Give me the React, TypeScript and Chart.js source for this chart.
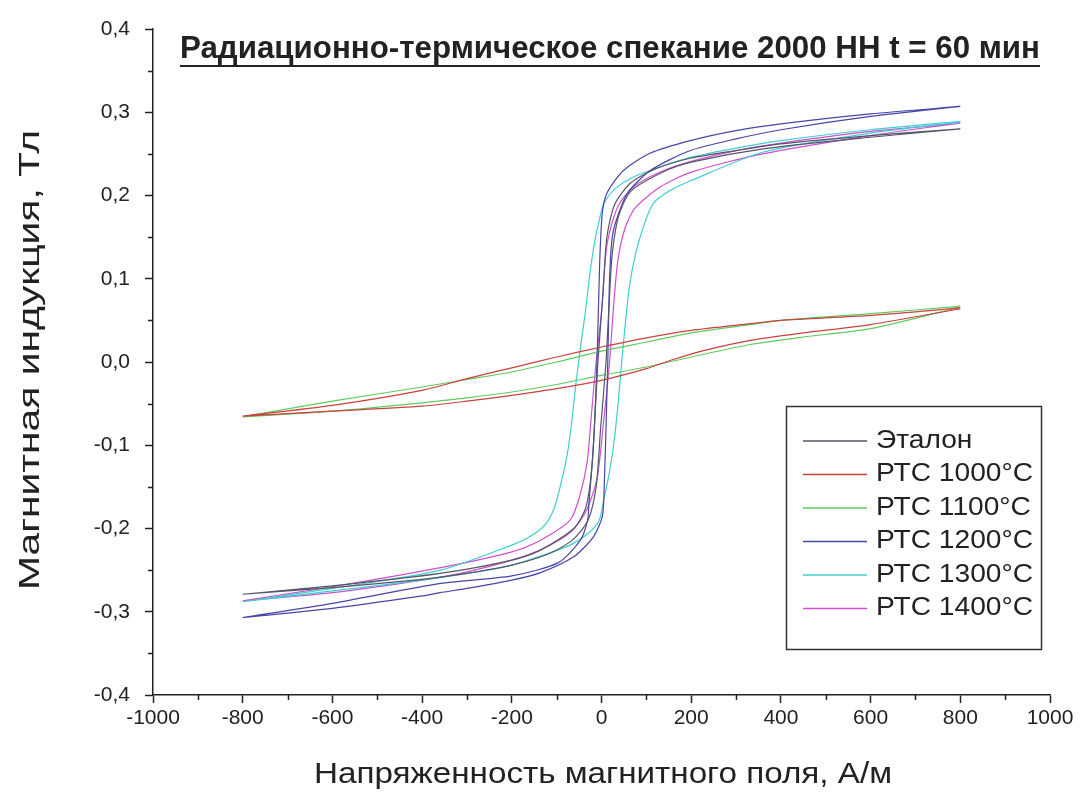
import React, { useEffect, useRef } from 'react';
import { Chart, registerables } from 'chart.js';

Chart.register(...registerables);

const TITLE = 'Радиационно-термическое спекание 2000 НН t = 60 мин';
const X_TITLE = 'Напряженность магнитного поля, А/м';
const Y_TITLE = 'Магнитная индукция, Тл';

const SERIES_NAMES = ['Эталон', 'РТС 1000°C', 'РТС 1100°C', 'РТС 1200°C', 'РТС 1300°C', 'РТС 1400°C'];
const SERIES_COLORS = ['#55556a', '#cc4040', '#5fcc5f', '#4646a8', '#3fcfcf', '#d04ed0'];

const X_MIN = -1000;
const X_MAX = 1000;
const X_STEP = 200;
const Y_MIN = -0.4;
const Y_MAX = 0.4;
const Y_STEP = 0.1;
const X_MINOR = [-900, -700, -500, -300, -100, 100, 300, 500, 700, 900];
const Y_MINOR = [-0.35, -0.25, -0.15, -0.05, 0.05, 0.15, 0.25, 0.35];

// Эталон
const etalonDescH = [800, 600, 400, 300, 200, 120, 65, 30, 12, 3, -8, -15, -22, -35, -62, -136, -200, -360, -600, -800];
const etalonDescB = [0.280, 0.272, 0.262, 0.254, 0.245, 0.232, 0.215, 0.19, 0.15, 0.08, 0.0, -0.07, -0.13, -0.175, -0.2, -0.226, -0.238, -0.254, -0.269, -0.279];
const etalonAscH = [-800, -600, -400, -300, -200, -120, -65, -30, -12, -2, 10, 17, 24, 38, 65, 136, 200, 360, 600, 800];
const etalonAscB = [-0.279, -0.271, -0.261, -0.254, -0.244, -0.231, -0.214, -0.19, -0.15, -0.08, 0.0, 0.07, 0.13, 0.175, 0.205, 0.228, 0.24, 0.256, 0.27, 0.28];

// РТС 1000
const rts1000DescH = [800, 600, 400, 332, 200, 100, 0, -100, -200, -300, -400, -600, -800];
const rts1000DescB = [0.065, 0.056, 0.05, 0.046, 0.038, 0.029, 0.018, 0.006, -0.007, -0.02, -0.034, -0.052, -0.065];
const rts1000AscH = [-800, -600, -400, -300, -200, -100, 0, 100, 160, 230, 332, 450, 600, 800];
const rts1000AscB = [-0.065, -0.059, -0.053, -0.047, -0.04, -0.032, -0.022, -0.008, 0.003, 0.014, 0.026, 0.035, 0.045, 0.064];

// РТС 1100
const rts1100DescH = [800, 600, 400, 332, 200, 100, 0, -100, -200, -300, -400, -600, -800];
const rts1100DescB = [0.067, 0.058, 0.05, 0.045, 0.035, 0.024, 0.013, 0.0, -0.012, -0.021, -0.03, -0.047, -0.066];
const rts1100AscH = [-800, -600, -400, -300, -200, -100, 0, 100, 200, 332, 450, 600, 800];
const rts1100AscB = [-0.066, -0.059, -0.049, -0.043, -0.036, -0.027, -0.016, -0.006, 0.006, 0.021, 0.03, 0.04, 0.066];

// РТС 1200
const rts1200DescH = [800, 600, 400, 300, 198, 109, 49, 13, 2, -4, -10, -18, -28, -31, -47, -96, -200, -359, -600, -800];
const rts1200DescB = [0.307, 0.298, 0.286, 0.278, 0.266, 0.251, 0.23, 0.204, 0.18, 0.12, 0.0, -0.1, -0.17, -0.19, -0.214, -0.241, -0.257, -0.266, -0.29, -0.307];
const rts1200AscH = [-800, -600, -400, -360, -300, -200, -136, -62, -18, 2, 6, 10, 14, 18, 24, 36, 58, 109, 198, 300, 400, 600, 800];
const rts1200AscB = [-0.307, -0.296, -0.281, -0.277, -0.272, -0.262, -0.253, -0.234, -0.21, -0.185, -0.15, -0.08, 0.0, 0.1, 0.15, 0.175, 0.203, 0.23, 0.254, 0.268, 0.279, 0.295, 0.307];

// РТС 1300
const rts1300DescH = [800, 600, 400, 300, 200, 130, 70, 30, 5, -5, -15, -25, -36, -45, -51, -58, -66, -76, -90, -105, -125, -160, -200, -359, -600, -800];
const rts1300DescB = [0.289, 0.279, 0.266, 0.257, 0.246, 0.234, 0.222, 0.208, 0.19, 0.17, 0.145, 0.11, 0.06, 0.025, 0.0, -0.03, -0.07, -0.11, -0.145, -0.175, -0.195, -0.21, -0.22, -0.25, -0.272, -0.288];
const rts1300AscH = [-800, -600, -400, -300, -200, -130, -70, -30, -5, 5, 15, 27, 37, 45, 52, 62, 76, 95, 115, 150, 200, 359, 600, 800];
const rts1300AscB = [-0.288, -0.275, -0.262, -0.254, -0.244, -0.232, -0.22, -0.206, -0.19, -0.165, -0.14, -0.1, -0.05, 0.0, 0.04, 0.09, 0.13, 0.165, 0.19, 0.205, 0.218, 0.252, 0.275, 0.288];

// РТС 1400
const rts1400DescH = [800, 600, 400, 300, 200, 130, 70, 35, 12, 0, -12, -22, -32, -48, -70, -136, -200, -359, -600, -800];
const rts1400DescB = [0.287, 0.277, 0.263, 0.254, 0.241, 0.228, 0.21, 0.185, 0.14, 0.06, 0.0, -0.06, -0.12, -0.16, -0.19, -0.214, -0.228, -0.247, -0.27, -0.287];
const rts1400AscH = [-800, -600, -400, -300, -200, -130, -70, -35, -10, 5, 18, 26, 36, 52, 75, 130, 200, 359, 600, 800];
const rts1400AscB = [-0.287, -0.277, -0.262, -0.252, -0.238, -0.224, -0.205, -0.18, -0.14, -0.07, 0.0, 0.06, 0.12, 0.16, 0.185, 0.21, 0.228, 0.25, 0.272, 0.287];

const LOOPS = [
  [etalonDescH, etalonDescB, etalonAscH, etalonAscB],
  [rts1000DescH, rts1000DescB, rts1000AscH, rts1000AscB],
  [rts1100DescH, rts1100DescB, rts1100AscH, rts1100AscB],
  [rts1200DescH, rts1200DescB, rts1200AscH, rts1200AscB],
  [rts1300DescH, rts1300DescB, rts1300AscH, rts1300AscB],
  [rts1400DescH, rts1400DescB, rts1400AscH, rts1400AscB],
];

const FONT_FAMILY = '"Liberation Sans", Arial, sans-serif';
const TITLE_FAMILY = '"Liberation Sans Narrow", "Liberation Sans", Arial, sans-serif';
const INK = '#222222';

function fittedText(ctx: CanvasRenderingContext2D, text: string, font: string, cx: number, cy: number, target: number, rotate = 0) {
  ctx.save();
  ctx.font = font;
  const w = ctx.measureText(text).width;
  ctx.translate(cx, cy);
  if (rotate) ctx.rotate(rotate);
  ctx.scale(target / w, 1);
  ctx.textAlign = 'center';
  ctx.textBaseline = 'middle';
  ctx.fillText(text, 0, 0);
  ctx.restore();
}

const decorPlugin = {
  id: 'decor',
  afterDraw(chart: any) {
    const ctx: CanvasRenderingContext2D = chart.ctx;
    const xs = chart.scales.x;
    const ys = chart.scales.y;
    const area = chart.chartArea;
    ctx.save();
    ctx.fillStyle = INK;
    ctx.strokeStyle = INK;

    // minor ticks
    ctx.lineWidth = 1.5;
    ctx.beginPath();
    X_MINOR.forEach((v) => {
      const px = Math.round(xs.getPixelForValue(v)) + 0.5;
      ctx.moveTo(px, area.bottom);
      ctx.lineTo(px, area.bottom + 5);
    });
    Y_MINOR.forEach((v) => {
      const py = Math.round(ys.getPixelForValue(v)) + 0.5;
      ctx.moveTo(area.left, py);
      ctx.lineTo(area.left - 5, py);
    });
    ctx.stroke();

    // title
    fittedText(ctx, TITLE, `bold 31px ${TITLE_FAMILY}`, 610, 49, 860);
    ctx.lineWidth = 2.2;
    ctx.beginPath();
    ctx.moveTo(180, 66);
    ctx.lineTo(1040, 66);
    ctx.stroke();

    // axis titles
    fittedText(ctx, X_TITLE, `30px ${FONT_FAMILY}`, 603, 775, 578);
    fittedText(ctx, Y_TITLE, `30px ${FONT_FAMILY}`, 31, 360, 460, -Math.PI / 2);

    // legend
    const bx = 786.5, by = 406.5, bw = 255, bh = 243;
    ctx.fillStyle = '#ffffff';
    ctx.fillRect(bx, by, bw, bh);
    ctx.strokeStyle = '#333333';
    ctx.lineWidth = 1.5;
    ctx.strokeRect(bx, by, bw, bh);
    const lf = `25px ${FONT_FAMILY}`;
    ctx.font = lf;
    const sx = 157 / ctx.measureText(SERIES_NAMES[1]).width;
    chart.data.datasets.forEach((ds: any, i: number) => {
      const ry = 441 + i * 33.5;
      ctx.strokeStyle = ds.borderColor;
      ctx.lineWidth = 1.3;
      ctx.beginPath();
      ctx.moveTo(803, ry);
      ctx.lineTo(867, ry);
      ctx.stroke();
      ctx.save();
      ctx.fillStyle = INK;
      ctx.font = lf;
      ctx.textAlign = 'left';
      ctx.textBaseline = 'middle';
      ctx.translate(876, ry);
      ctx.scale(sx, 1);
      ctx.fillText(ds.label, 0, 0);
      ctx.restore();
    });
    ctx.restore();
  },
};

export default function App() {
  const ref = useRef<HTMLCanvasElement | null>(null);
  useEffect(() => {
    if (!ref.current) return;
    const datasets = LOOPS.map(([dH, dB, aH, aB], i) => ({
      label: SERIES_NAMES[i],
      data: [
        ...dH.map((h, k) => ({ x: h, y: dB[k] })),
        ...aH.map((h, k) => ({ x: h, y: aB[k] })),
      ],
      borderColor: SERIES_COLORS[i],
      backgroundColor: SERIES_COLORS[i],
      borderWidth: 1.2,
      showLine: true,
      pointRadius: 0,
      tension: 0.25,
      fill: false,
    }));
    const chart = new Chart(ref.current, {
      type: 'scatter',
      data: { datasets },
      options: {
        animation: false,
        responsive: false,
        maintainAspectRatio: false,
        layout: { padding: { left: 0, top: 29, right: 33, bottom: 0 } },
        plugins: { legend: { display: false }, tooltip: { enabled: false }, title: { display: false } },
        scales: {
          x: {
            type: 'linear',
            min: X_MIN,
            max: X_MAX,
            afterFit: (s: any) => { s.height = 101; },
            ticks: {
              stepSize: X_STEP,
              color: INK,
              padding: 3,
              maxRotation: 0,
              autoSkip: false,
              font: { family: FONT_FAMILY, size: 21 },
              callback: (v: any) => String(Math.round(Number(v))),
            },
            grid: { display: true, drawOnChartArea: false, drawTicks: true, tickLength: 8, tickColor: INK, tickWidth: 1.5 },
            border: { display: true, color: INK, width: 1.5 },
          },
          y: {
            type: 'linear',
            min: Y_MIN,
            max: Y_MAX,
            afterFit: (s: any) => { s.width = 153; },
            ticks: {
              stepSize: Y_STEP,
              color: INK,
              padding: 15,
              autoSkip: false,
              font: { family: FONT_FAMILY, size: 21 },
              callback: (v: any) => {
                const n = Number(v);
                if (Math.abs(n) < 1e-9) return '0,0';
                return n.toFixed(1).replace('.', ',');
              },
            },
            grid: { display: true, drawOnChartArea: false, drawTicks: true, tickLength: 8, tickColor: INK, tickWidth: 1.5 },
            border: { display: true, color: INK, width: 1.5 },
          },
        },
      },
      plugins: [decorPlugin],
    });
    return () => chart.destroy();
  }, []);
  return (
    <div style={{ position: 'absolute', left: 0, top: 0, width: 1083, height: 796, background: '#ffffff' }}>
      <canvas ref={ref} width={1083} height={796} style={{ display: 'block' }} />
    </div>
  );
}
